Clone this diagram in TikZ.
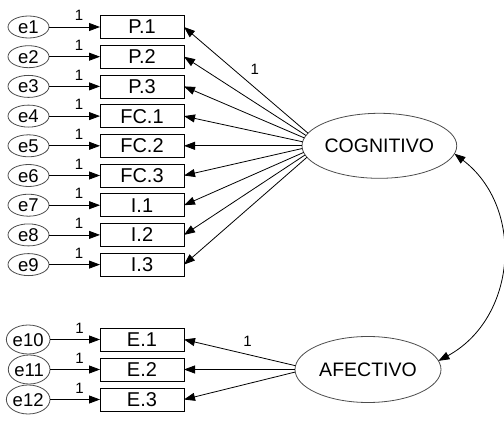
\documentclass[tikz,border=0pt]{standalone}
\usepackage{fontspec}
\setmainfont{Liberation Sans}
\usetikzlibrary{shapes,arrows.meta,positioning}

\begin{document}
\begin{tikzpicture}[x=1pt,y=1pt,% 1pt = 1px of the reference
    >={Triangle[length=11pt,width=8pt]},
    item/.style={rectangle,draw,line width=0.8pt,outer sep=0pt,minimum width=84pt,minimum height=23pt,inner sep=0pt,text height=14pt,text depth=0pt,font=\fontsize{20}{22}\selectfont},
    err/.style={ellipse,draw=black!70,line width=0.8pt,outer sep=0pt,minimum width=41pt,minimum height=22pt,inner sep=0pt,text height=13pt,text depth=0pt,font=\fontsize{18.5}{20}\selectfont},
    latent/.style={ellipse,draw=black!70,line width=0.8pt,outer sep=0pt,minimum width=145pt,minimum height=65pt,inner sep=0pt,text height=14pt,text depth=0pt,font=\fontsize{19.5}{21}\selectfont},
    one/.style={inner sep=0pt,font=\fontsize{15}{16}\selectfont},
    every edge/.style={draw,line width=0.8pt}
  ]
  \useasboundingbox (0,0) rectangle (504,-423);

  % observed variables
  \node[item](P1) at (142,-27) {P.1};
  \node[item](P2)[below=6.7pt of P1]{P.2};
  \node[item](P3)[below=6.7pt of P2]{P.3};
  \node[item](FC1)[below=6.7pt of P3]{FC.1};
  \node[item](FC2)[below=6.7pt of FC1]{FC.2};
  \node[item](FC3)[below=6.7pt of FC2]{FC.3};
  \node[item](I1)[below=6.7pt of FC3]{I.1};
  \node[item](I2)[below=6.7pt of I1]{I.2};
  \node[item](I3)[below=6.7pt of I2]{I.3};
  \node[item](E1)[below=51.9pt of I3]{E.1};
  \node[item](E2)[below=7pt of E1]{E.2};
  \node[item](E3)[below=7pt of E2]{E.3};

  % errors
  \node[err](e1)[left=51pt of P1]{e1};
  \node[err](e2)[left=51pt of P2]{e2};
  \node[err](e3)[left=51pt of P3]{e3};
  \node[err](e4)[left=51pt of FC1]{e4};
  \node[err](e5)[left=51pt of FC2]{e5};
  \node[err](e6)[left=51pt of FC3]{e6};
  \node[err](e7)[left=51pt of I1]{e7};
  \node[err](e8)[left=51pt of I2]{e8};
  \node[err](e9)[left=51pt of I3]{e9};
  \node[err,minimum width=40pt,minimum height=29pt](e10)[left=50pt of E1]{e10};
  \node[err,minimum width=40pt,minimum height=29pt](e11)[left=50pt of E2]{e11};
  \node[err,minimum width=40pt,minimum height=29pt](e12)[left=50pt of E3]{e12};

  % latent variables
  \node[latent](COG)[right=118pt of FC2]{COGNITIVO};
  \node[latent,minimum width=146pt,minimum height=66pt](AFE)[right=111pt of E2]{AFECTIVO};

  \path[->]
  (e1) edge node[one,above=6pt,pos=0.59]{1} (P1)
  (e2) edge node[one,above=6pt,pos=0.59]{1} (P2)
  (e3) edge node[one,above=6pt,pos=0.59]{1} (P3)
  (e4) edge node[one,above=6pt,pos=0.59]{1} (FC1)
  (e5) edge node[one,above=6pt,pos=0.59]{1} (FC2)
  (e6) edge node[one,above=6pt,pos=0.59]{1} (FC3)
  (e7) edge node[one,above=6pt,pos=0.59]{1} (I1)
  (e8) edge node[one,above=6pt,pos=0.59]{1} (I2)
  (e9) edge node[one,above=6pt,pos=0.59]{1} (I3)
  (e10) edge node[one,above=6pt,pos=0.59]{1} (E1)
  (e11) edge node[one,above=6pt,pos=0.59]{1} (E2)
  (e12) edge node[one,above=6pt,pos=0.59]{1} (E3)
  ;
  \path[->]
  (COG.170.7) edge node[one,pos=0.43,yshift=18pt]{1} (P1.east)
  (COG.172.4) edge (P2.east)
  (COG.174.6) edge (P3.east)
  (COG.177.1) edge (FC1.east)
  (COG.180) edge (FC2.east)
  (COG.182.9) edge (FC3.east)
  (COG.185.4) edge (I1.east)
  (COG.187.6) edge (I2.east)
  (COG.189.3) edge (I3.east)
  (AFE.177.1) edge node[one,pos=0.43,yshift=13pt]{1} (E1.east)
  (AFE.180) edge (E2.east)
  (AFE.182.9) edge (E3.east)
  ;
  \path[<->]
  (COG.354) edge[bend left=57,looseness=1.1] (AFE.7)
  ;
\end{tikzpicture}
\end{document}
